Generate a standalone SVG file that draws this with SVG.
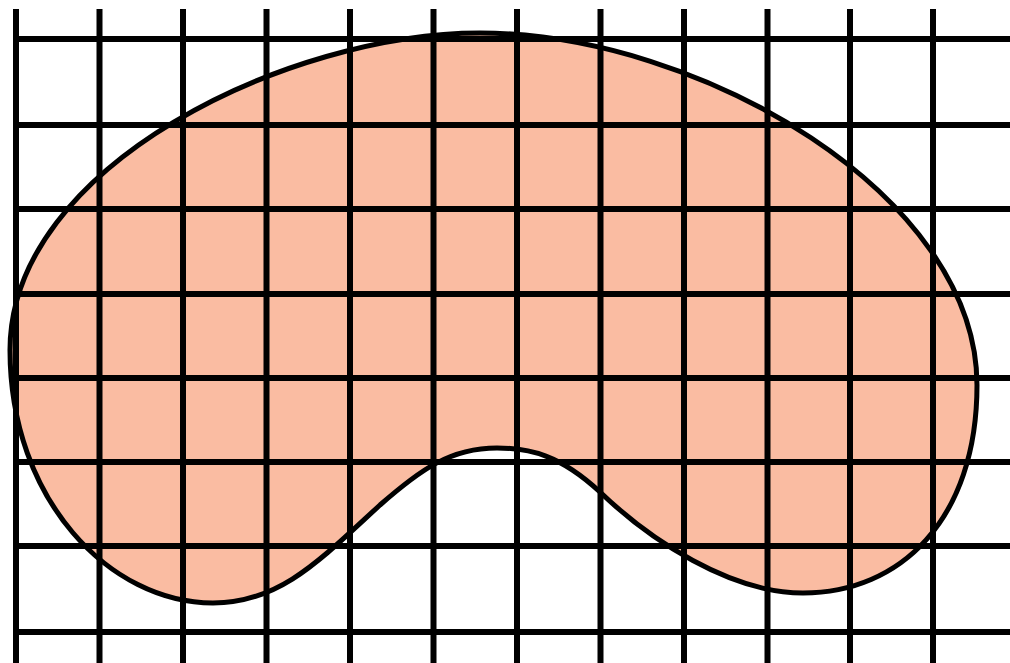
<svg xmlns="http://www.w3.org/2000/svg" width="1010" height="663" viewBox="0 0 1010 663">
<style>
.grid line{stroke:#000;stroke-width:6}
.blob{fill:#FABCA2;stroke:none}
.outline{fill:none;stroke:#000;stroke-width:5}
</style>
<rect width="1010" height="663" fill="#fff"/>
<path class="blob" d="M10,350 C10,165 290,33 480,33 C700,33 977,195 977,385 C977,520 900,593 803,593 C730,593 650,540 600,492 C560,455 530,448 497,448 C450,448 420,470 380,505 C320,560 280,603 213,603 C110,603 10,500 10,350 Z"/>
<g class="grid">
<line x1="16" y1="9" x2="16" y2="663"/>
<line x1="99.5" y1="9" x2="99.5" y2="663"/>
<line x1="183" y1="9" x2="183" y2="663"/>
<line x1="266.5" y1="9" x2="266.5" y2="663"/>
<line x1="350" y1="9" x2="350" y2="663"/>
<line x1="433.5" y1="9" x2="433.5" y2="663"/>
<line x1="517" y1="9" x2="517" y2="663"/>
<line x1="600.5" y1="9" x2="600.5" y2="663"/>
<line x1="684" y1="9" x2="684" y2="663"/>
<line x1="767.5" y1="9" x2="767.5" y2="663"/>
<line x1="850" y1="9" x2="850" y2="663"/>
<line x1="933" y1="9" x2="933" y2="663"/>
<line x1="13" y1="39" x2="1010" y2="39"/>
<line x1="13" y1="125" x2="1010" y2="125"/>
<line x1="13" y1="209" x2="1010" y2="209"/>
<line x1="13" y1="294" x2="1010" y2="294"/>
<line x1="13" y1="378" x2="1010" y2="378"/>
<line x1="13" y1="462" x2="1010" y2="462"/>
<line x1="13" y1="546" x2="1010" y2="546"/>
<line x1="13" y1="632" x2="1010" y2="632"/>
</g>
<path class="outline" d="M10,350 C10,165 290,33 480,33 C700,33 977,195 977,385 C977,520 900,593 803,593 C730,593 650,540 600,492 C560,455 530,448 497,448 C450,448 420,470 380,505 C320,560 280,603 213,603 C110,603 10,500 10,350 Z"/>
</svg>
